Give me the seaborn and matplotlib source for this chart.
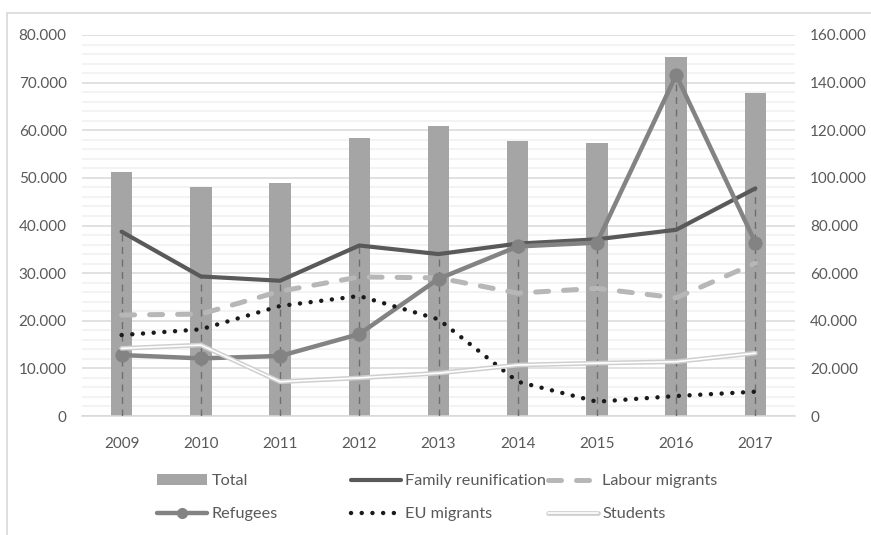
import numpy as np
import pandas as pd
import seaborn as sns
import matplotlib.pyplot as plt
import matplotlib.patheffects as pe
from matplotlib.lines import Line2D
from matplotlib.patches import Patch
from matplotlib.ticker import MultipleLocator, FuncFormatter, FixedLocator

# values
years = ["2009", "2010", "2011", "2012", "2013", "2014", "2015", "2016", "2017"]
total = [102600, 96300, 97900, 116700, 121800, 115500, 114800, 150800, 135600]
family = [38700, 29300, 28400, 35800, 34000, 36200, 37100, 39100, 47800]
labour = [21200, 21400, 26200, 29200, 29000, 25800, 26800, 24800, 32100]
refugees = [12800, 12100, 12600, 17200, 28800, 35600, 36400, 71600, 36400]
eu_migrants = [17000, 18200, 23100, 25200, 20300, 7200, 3000, 4200, 5100]
students = [14200, 14900, 7200, 8000, 9000, 10700, 11100, 11400, 13200]

sns.set_style("white")
plt.rcParams["font.family"] = ["Lato", "DejaVu Sans"]

TXT = "#595959"
GRID = "#d9d9d9"

df = pd.DataFrame({"Year": years, "Total": total})
idx = np.arange(len(years))

W, H = 871, 535
fig = plt.figure(figsize=(W / 100, H / 100), dpi=100)
ax = fig.add_axes([82 / W, 1 - 416 / H, (795 - 82) / W, (416 - 35) / H])

# bars on the right-hand scale
sns.barplot(data=df, x="Year", y="Total", ax=ax, color="#a5a5a5",
            saturation=1, width=0.27, linewidth=0)
ax.set_ylim(0, 160000)
ax.yaxis.set_major_locator(MultipleLocator(20000))
ax.yaxis.set_minor_locator(MultipleLocator(4000))
ax.grid(which="major", axis="y", color=GRID, lw=1.1)
ax.grid(which="minor", axis="y", color="#f0f0f0", lw=1.1)
ax.set_axisbelow(True)
ax.set_xlabel("")
ax.set_ylabel("")

# lines on the left-hand scale, drawn over the bars
ax2 = ax.twinx()
ax.yaxis.tick_right()
ax2.yaxis.tick_left()
ax2.set_ylim(0, 80000)
ax2.yaxis.set_major_locator(MultipleLocator(10000))

peak = np.max(np.vstack([family, labour, refugees, eu_migrants, students]), axis=0)
ax2.vlines(idx, 0, peak, colors="#6e6e6e", lw=1.0, linestyles=(0, (5, 4)), zorder=1)

sns.lineplot(x=idx, y=family, ax=ax2, color="#595959", lw=3.0, zorder=3,
             solid_capstyle="round", solid_joinstyle="round")
sns.lineplot(x=idx, y=labour, ax=ax2, color="#b7b7b7", lw=3.6, zorder=4,
             linestyle=(0, (2.6, 3.0)), dash_capstyle="round")
sns.lineplot(x=idx, y=refugees, ax=ax2, color="#838383", lw=3.2, zorder=5,
             marker="o", markersize=9.5, mec="#838383", mfc="#838383",
             solid_joinstyle="round")
sns.lineplot(x=idx, y=eu_migrants, ax=ax2, color="#1a1a1a", lw=3.2, zorder=6,
             linestyle=(0, (0.01, 2.4)), dash_capstyle="round")
student_fx = [pe.Stroke(linewidth=3.4, foreground="#cfcfcf"), pe.Normal()]
sns.lineplot(x=idx, y=students, ax=ax2, color="white", lw=1.2, zorder=7,
             path_effects=student_fx)

ax.set_xlim(-0.5, len(years) - 0.5)
ax2.set_xlim(-0.5, len(years) - 0.5)
ax2.set_ylabel("")

fmt = FuncFormatter(lambda v, p: f"{v:,.0f}".replace(",", "."))
ax.yaxis.set_major_formatter(fmt)
ax2.yaxis.set_major_formatter(fmt)

for a in (ax, ax2):
    for s in a.spines.values():
        s.set_visible(False)
ax.spines["bottom"].set_visible(True)
ax.spines["bottom"].set_color(GRID)
ax.spines["bottom"].set_linewidth(1.1)

ax.tick_params(axis="y", which="both", length=0, pad=11, labelsize=11, labelcolor=TXT)
ax2.tick_params(axis="y", which="both", length=0, pad=11, labelsize=11, labelcolor=TXT)
ax.set_xticks(idx)
ax.set_xticklabels(years)
ax.xaxis.set_minor_locator(FixedLocator(np.arange(len(years) + 1) - 0.5))
ax.tick_params(axis="x", which="major", length=0, pad=15, labelsize=11, labelcolor=TXT)
ax.tick_params(axis="x", which="minor", length=5, width=1.1, color=GRID, direction="out")

# frame round the chart
fig.add_artist(Line2D([7 / W, 7 / W], [0, 1 - 13 / H], color=GRID, lw=1.2))
fig.add_artist(Line2D([7 / W, 1], [1 - 13 / H, 1 - 13 / H], color=GRID, lw=1.2))

# legend: three columns, two rows
h_total = Patch(color="#a5a5a5", lw=0)
h_family = Line2D([], [], color="#595959", lw=3.0, solid_capstyle="round")
h_labour = Line2D([], [], color="#b7b7b7", lw=3.6, linestyle=(0, (2.6, 3.0)),
                  dash_capstyle="round")
h_ref = Line2D([], [], color="#838383", lw=3.2, marker="o", markersize=7,
               mec="#838383")
h_eu = Line2D([], [], color="#1a1a1a", lw=3.2, linestyle=(0, (0.01, 2.4)),
              dash_capstyle="round")
h_stud = Line2D([], [], color="white", lw=1.2, path_effects=student_fx)

columns = [
    ([h_total, h_ref], ["Total", "Refugees"]),
    ([h_family, h_eu], ["Family reunification", "EU migrants"]),
    ([h_labour, h_stud], ["Labour migrants", "Students"]),
]
for (hs, ls), x in zip(columns, [157, 351, 548]):
    fig.legend(hs, ls, loc="upper left", bbox_to_anchor=(x / W, 1 - 474 / H),
               frameon=False, borderpad=0, borderaxespad=0, handlelength=3.1,
               handleheight=0.7, handletextpad=0.25, labelspacing=1.15,
               fontsize=11.7, labelcolor=TXT)

fig.savefig("out.png", dpi=100)
